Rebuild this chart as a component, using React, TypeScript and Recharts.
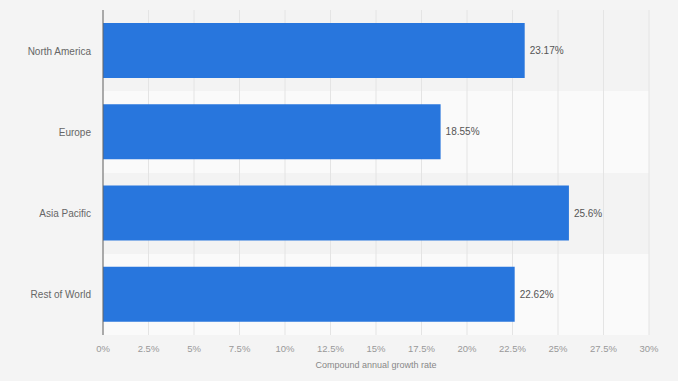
import { BarChart, Bar, XAxis, YAxis, CartesianGrid, LabelList } from "recharts";

const regions = ["North America", "Europe", "Asia Pacific", "Rest of World"];
const growth = [23.17, 18.55, 25.6, 22.62];
const xTicks = [0, 2.5, 5, 7.5, 10, 12.5, 15, 17.5, 20, 22.5, 25, 27.5, 30];

const data = regions.map((name, i) => ({ name, value: growth[i] }));

const font = "'Liberation Sans', Arial, sans-serif";

// y-axis label drawn on one line (default tick wraps long names)
const RegionTick = ({ x, y, payload }: any) => (
  <text
    x={x}
    y={y}
    dy={4}
    textAnchor="end"
    fill="#666"
    fontSize={10}
    fontFamily={font}
  >
    {payload.value}
  </text>
);

const App = () => {
  return (
    <div
      style={{
        position: "absolute",
        left: 0,
        top: 0,
        width: 678,
        height: 381,
        background: "#f4f4f4",
        fontFamily: font,
      }}
    >
      <BarChart
        width={678}
        height={381}
        data={data}
        layout="vertical"
        margin={{ top: 10, right: 29, bottom: 16, left: 8 }}
      >
        <CartesianGrid
          vertical={false}
          stroke="none"
          horizontalFill={["#f3f3f3", "#fafafa"]}
          horizontalCoordinatesGenerator={({ offset }: any) =>
            regions.map((_, i) => offset.top + (i * offset.height) / regions.length)
          }
        />
        <CartesianGrid horizontal={false} stroke="#e4e4e4" />
        <XAxis
          type="number"
          domain={[0, 30]}
          ticks={xTicks}
          tickFormatter={(v: number) => `${v}%`}
          axisLine={false}
          tickLine={false}
          tickMargin={4}
          height={30}
          tick={{ fill: "#999", fontSize: 9.5, fontFamily: font }}
          label={{
            value: "Compound annual growth rate",
            position: "insideBottom",
            offset: -3,
            fill: "#888",
            fontSize: 9,
            fontFamily: font,
          }}
        />
        <YAxis
          type="category"
          dataKey="name"
          width={95}
          axisLine={{ stroke: "#666", strokeWidth: 1 }}
          tickLine={false}
          tickMargin={6}
          tick={<RegionTick />}
        />
        <Bar dataKey="value" fill="#2876dd" barSize={55} isAnimationActive={false}>
          <LabelList
            dataKey="value"
            position="right"
            offset={5}
            formatter={(v: any) => `${v}%`}
            style={{ fill: "#555", fontSize: 10, fontFamily: font }}
          />
        </Bar>
      </BarChart>
    </div>
  );
};

export default App;
